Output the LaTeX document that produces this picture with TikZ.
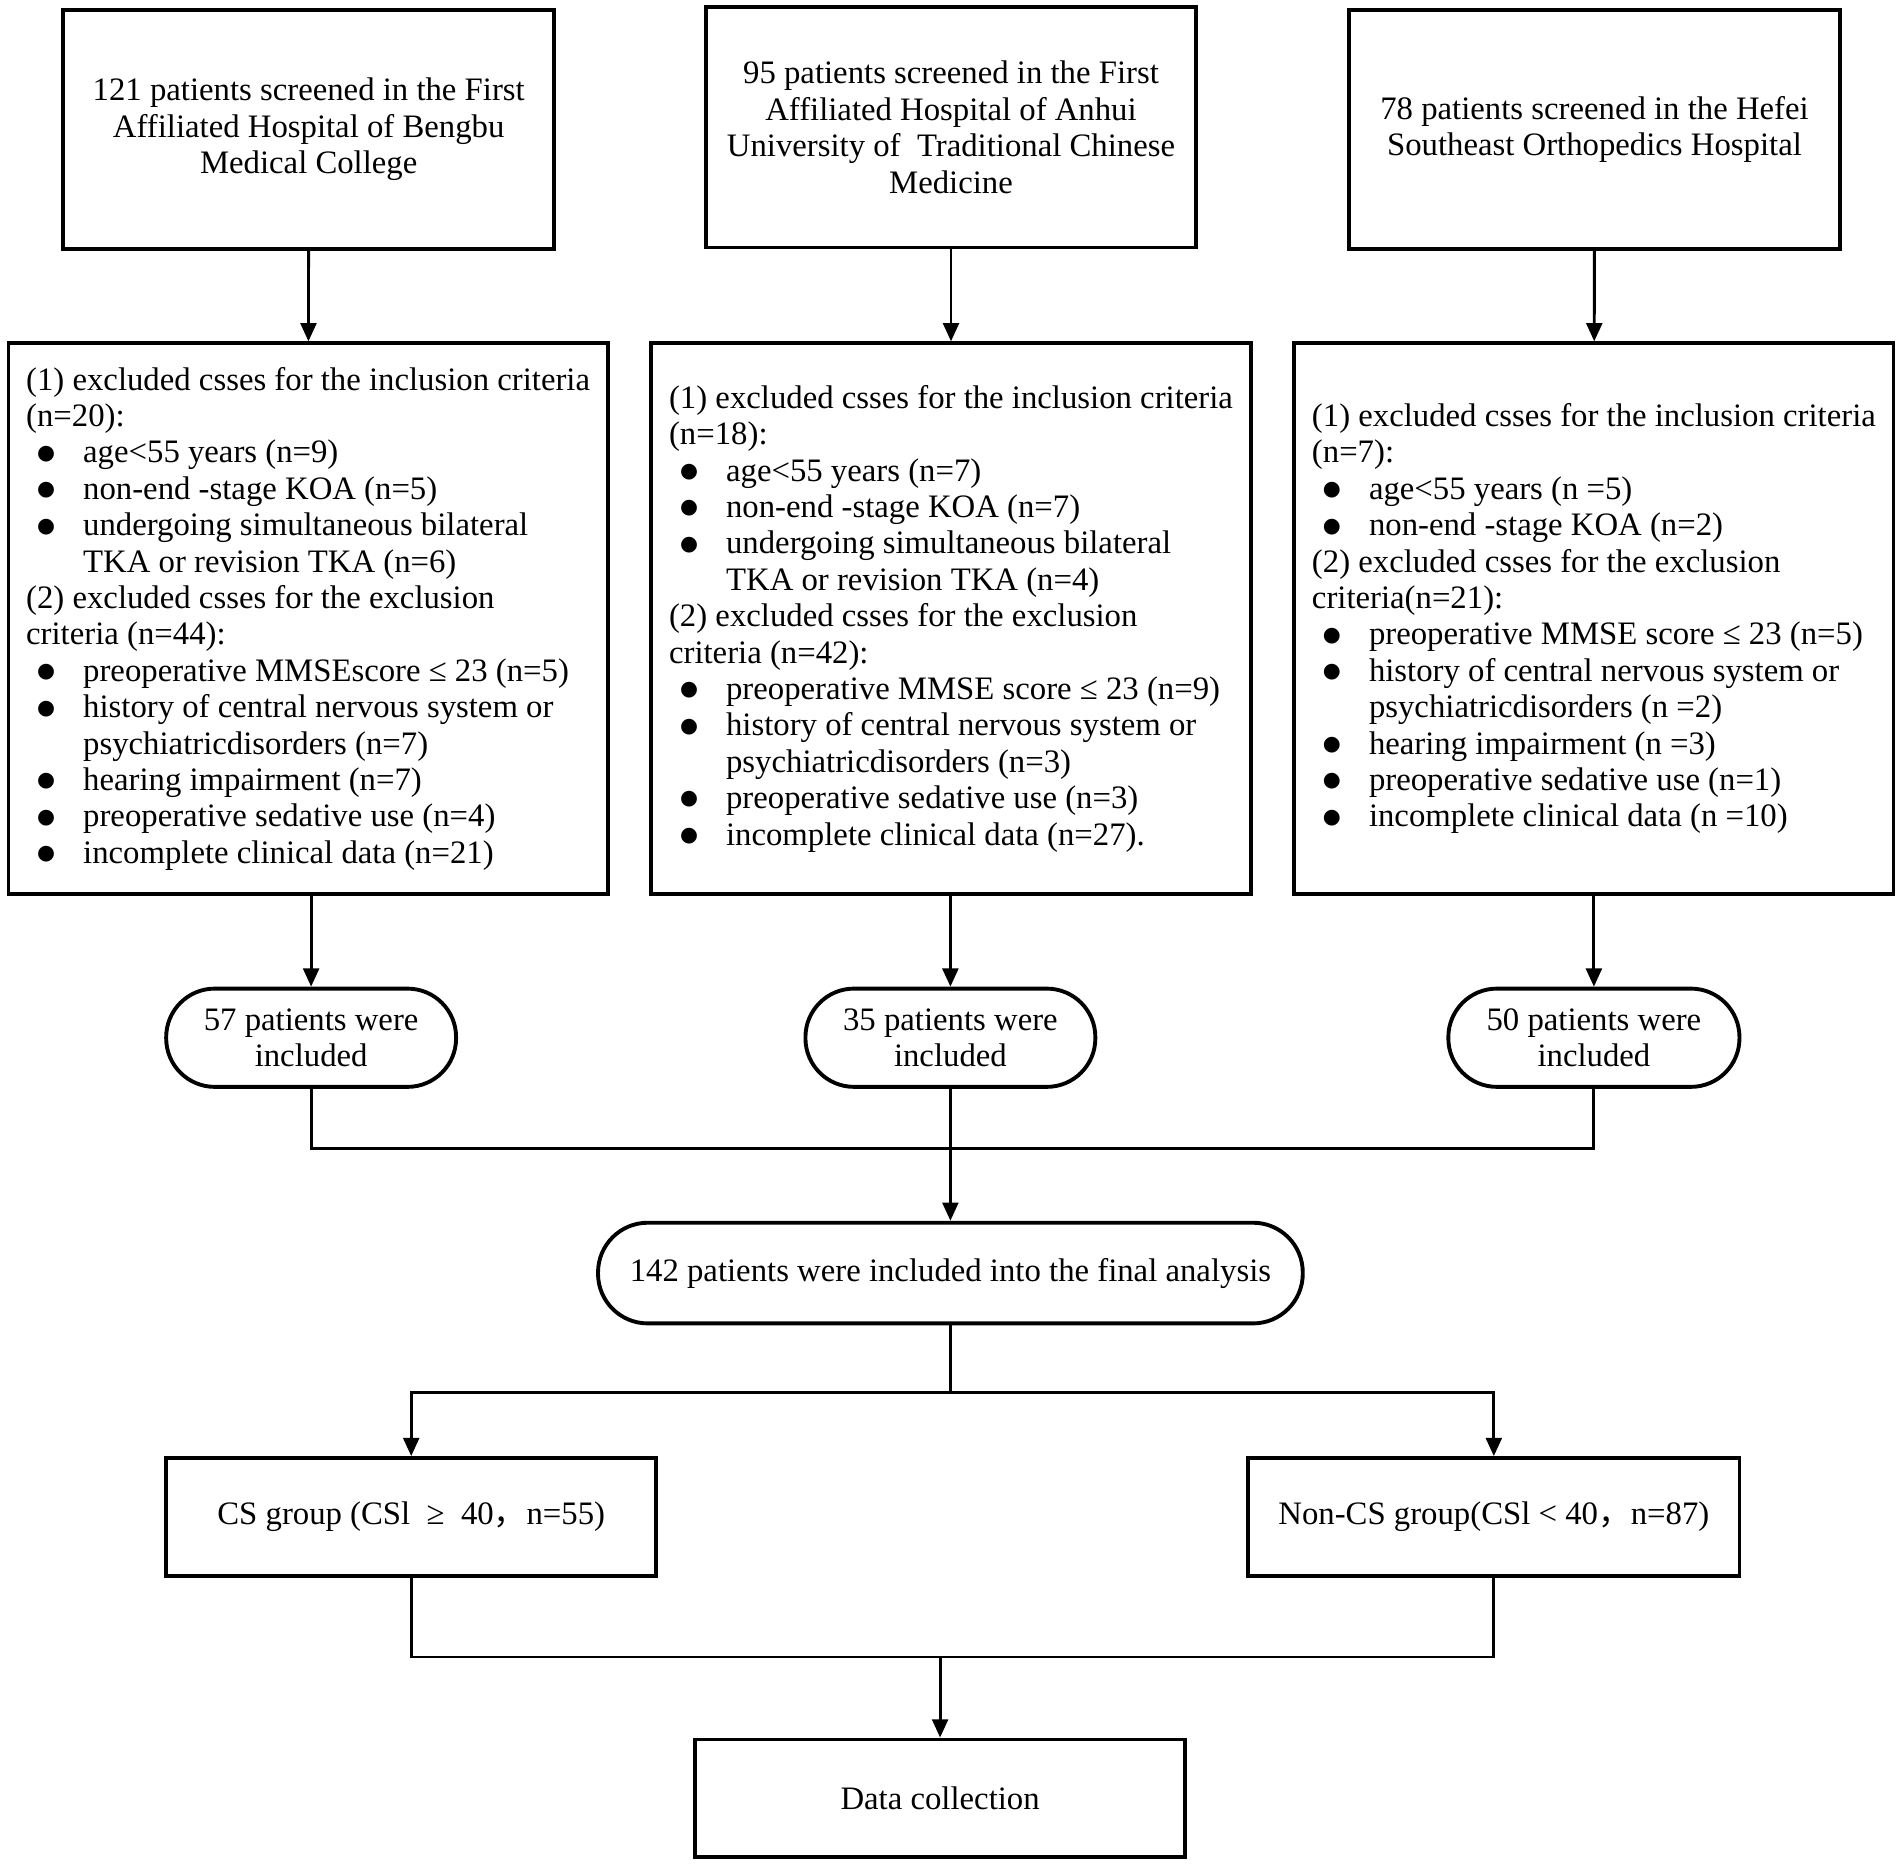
\documentclass[tikz,border=0pt]{standalone}
\usepackage{fontspec}
\setmainfont{Liberation Serif}
\newfontfamily\cjk{Noto Sans CJK SC}
\newfontfamily\dejavu{DejaVu Sans}
\usetikzlibrary{arrows.meta}
\newcommand\bl[1]{\makebox[47pt][l]{\hspace{9pt}\raisebox{3pt}{\dejavu\fontsize{17pt}{30pt}\selectfont ●}}#1}
\newcommand\ct[1]{\hspace*{47pt}#1}
\begin{document}
\begin{tikzpicture}[x=1pt,y=-1pt,
  font=\fontsize{27pt}{30pt}\selectfont,
  box/.style={draw, line width=3.2pt, inner sep=0pt, align=center},
  exbox/.style={draw, line width=3.2pt, inner sep=0pt, align=left, minimum width=494pt, minimum height=454pt},
  pill/.style={draw, line width=3.2pt, inner sep=0pt, align=center, rounded corners=40pt},
  conn/.style={line width=2.4pt},
  arr/.style={line width=2.4pt, -{Triangle[length=15pt,width=13pt]}}]
\useasboundingbox (0,0) rectangle (1568,1538);

% top boxes
\node[box, minimum width=405pt, minimum height=197pt] (A) at (254.5,106.5)
  {121 patients screened in the First\\Affiliated Hospital of Bengbu\\Medical College};
\node[box, minimum width=404pt, minimum height=198pt] (B) at (784,105)
  {95 patients screened in the First\\Affiliated Hospital of Anhui\\University of\ \ Traditional Chinese\\Medicine};
\node[box, minimum width=405pt, minimum height=197pt] (C) at (1314.5,106.5)
  {78 patients screened in the Hefei\\Southeast Orthopedics Hospital};

% exclusion boxes
\node[exbox] (D) at (254,510) {%
(1) excluded csses for the inclusion criteria\\
(n=20):\\
\bl{age<55 years (n=9)}\\
\bl{non-end -stage KOA (n=5)}\\
\bl{undergoing simultaneous bilateral}\\
\ct{TKA or revision TKA (n=6)}\\
(2) excluded csses for the exclusion\\
criteria (n=44):\\
\bl{preoperative MMSEscore ≤ 23 (n=5)}\\
\bl{history of central nervous system or}\\
\ct{psychiatricdisorders (n=7)}\\
\bl{hearing impairment (n=7)}\\
\bl{preoperative sedative use (n=4)}\\
\bl{incomplete clinical data (n=21)}};

\node[exbox] (E) at (784,510) {%
(1) excluded csses for the inclusion criteria\\
(n=18):\\
\bl{age<55 years (n=7)}\\
\bl{non-end -stage KOA (n=7)}\\
\bl{undergoing simultaneous bilateral}\\
\ct{TKA or revision TKA (n=4)}\\
(2) excluded csses for the exclusion\\
criteria (n=42):\\
\bl{preoperative MMSE score ≤ 23 (n=9)}\\
\bl{history of central nervous system or}\\
\ct{psychiatricdisorders (n=3)}\\
\bl{preoperative sedative use (n=3)}\\
\bl{incomplete clinical data (n=27).}};

\node[exbox] (F) at (1314,510) {%
(1) excluded csses for the inclusion criteria\\
(n=7):\\
\bl{age<55 years (n =5)}\\
\bl{non-end -stage KOA (n=2)}\\
(2) excluded csses for the exclusion\\
criteria(n=21):\\
\bl{preoperative MMSE score ≤ 23 (n=5)}\\
\bl{history of central nervous system or}\\
\ct{psychiatricdisorders (n =2)}\\
\bl{hearing impairment (n =3)}\\
\bl{preoperative sedative use (n=1)}\\
\bl{incomplete clinical data (n =10)}};

% included pills
\node[pill, minimum width=239pt, minimum height=81pt] (S1) at (256.5,855.5) {57 patients were\\included};
\node[pill, minimum width=239pt, minimum height=81pt] (S2) at (783.5,855.5) {35 patients were\\included};
\node[pill, minimum width=240pt, minimum height=81pt] (S3) at (1314,855.5) {50 patients were\\included};

\node[pill, rounded corners=41pt, minimum width=581pt, minimum height=83pt] (G) at (783.5,1049.5)
  {142 patients were included into the final analysis};

\node[box, minimum width=404pt, minimum height=97pt] (CS) at (339,1250.5)
  {CS group (CSl\ \ ≥\ \ 40{\cjk ，}n=55)};
\node[box, minimum width=405pt, minimum height=97pt] (NCS) at (1231.5,1250.5)
  {Non-CS group(CSl < 40{\cjk ，}n=87)};

\node[box, minimum width=404pt, minimum height=97pt] (DC) at (775,1482.5) {Data collection};

\coordinate (m) at (783.5,947);
\coordinate (s) at (783.5,1148);
\coordinate (j) at (775,1366);

% connectors
\draw[arr] (A) -- (D);
\draw[arr] (B) -- (E);
\draw[arr] (C) -- (F);
\draw[arr] (D.south -| S1) -- (S1);
\draw[arr] (E.south -| S2) -- (S2);
\draw[arr] (F.south -| S3) -- (S3);
\draw[conn] (S1.south) -- (S1 |- m) -- (S3 |- m) -- (S3.south);
\draw[arr] (S2) -- (G);
\draw[conn] (G.south) -- (s);
\draw[arr] (s) -| (CS.north);
\draw[arr] (s) -| (NCS.north);
\draw[conn] (CS.south) |- (NCS |- j) -- (NCS.south);
\draw[arr] (j) -- (DC);
\end{tikzpicture}
\end{document}
